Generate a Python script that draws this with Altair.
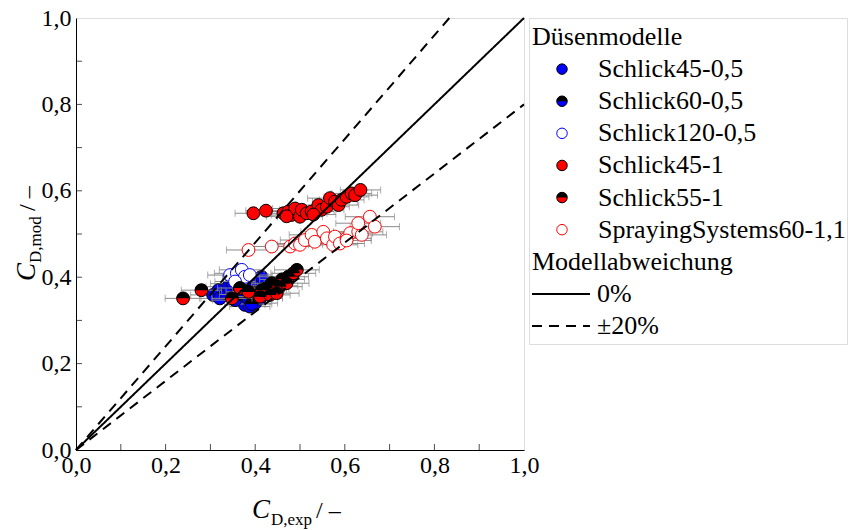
import altair as alt
import pandas as pd

FONT = "Liberation Serif"

# ---------------- data ----------------
series_names = ["Schlick45-0,5", "Schlick60-0,5", "Schlick120-0,5",
                "Schlick45-1", "Schlick55-1", "SprayingSystems60-1,1"]
series_fill = ["#0000FF", "#0000FF", "#FFFFFF", "#FF0000", "#FF0000", "#FFFFFF"]
series_stroke = ["#000000", "#000000", "#0000FF", "#000000", "#000000", "#FF0000"]
series_half = [False, True, False, False, True, False]

s45_05_x = [0.306, 0.318, 0.321, 0.333, 0.340, 0.350, 0.377, 0.388, 0.400, 0.411, 0.396, 0.407, 0.414]
s45_05_y = [0.359, 0.370, 0.351, 0.363, 0.378, 0.385, 0.336, 0.332, 0.340, 0.351, 0.378, 0.390, 0.401]
s45_05_e = [0.050, 0.050, 0.045, 0.050, 0.050, 0.050, 0.045, 0.045, 0.050, 0.050, 0.050, 0.050, 0.050]

s60_05_x = [0.355, 0.370, 0.385, 0.400, 0.392, 0.420]
s60_05_y = [0.347, 0.360, 0.350, 0.365, 0.338, 0.372]
s60_05_e = [0.050, 0.050, 0.045, 0.050, 0.045, 0.050]

s120_05_x = [0.344, 0.359, 0.370, 0.377, 0.355, 0.388]
s120_05_y = [0.405, 0.409, 0.417, 0.401, 0.390, 0.405]
s120_05_e = [0.050, 0.050, 0.050, 0.050, 0.045, 0.050]

s45_1_x = [0.396, 0.424, 0.463, 0.474, 0.481, 0.489, 0.500, 0.504, 0.515, 0.526, 0.541, 0.548,
           0.560, 0.567, 0.578, 0.586, 0.593, 0.604, 0.615, 0.623, 0.635, 0.530, 0.470]
s45_1_y = [0.548, 0.554, 0.548, 0.552, 0.544, 0.559, 0.540, 0.556, 0.548, 0.552, 0.567, 0.556,
           0.563, 0.583, 0.575, 0.567, 0.579, 0.586, 0.594, 0.590, 0.602, 0.545, 0.541]
s45_1_e = [0.041, 0.045, 0.045, 0.050, 0.045, 0.050, 0.050, 0.050, 0.045, 0.050, 0.050, 0.050,
           0.050, 0.050, 0.050, 0.045, 0.050, 0.050, 0.045, 0.050, 0.045, 0.050, 0.045]

s55_1_x = [0.239, 0.280, 0.348, 0.366, 0.385, 0.411, 0.425, 0.433, 0.448, 0.455, 0.470, 0.474,
           0.485, 0.493, 0.437, 0.460, 0.415, 0.445]
s55_1_y = [0.351, 0.370, 0.351, 0.375, 0.366, 0.355, 0.374, 0.359, 0.363, 0.378, 0.386, 0.401,
           0.409, 0.417, 0.386, 0.395, 0.370, 0.380]
s55_1_e = [0.040, 0.045, 0.045, 0.050, 0.050, 0.050, 0.050, 0.045, 0.050, 0.050, 0.050, 0.045,
           0.050, 0.050, 0.045, 0.050, 0.045, 0.050]

ss60_x = [0.385, 0.437, 0.478, 0.489, 0.500, 0.511, 0.526, 0.533, 0.552, 0.560, 0.574, 0.578,
          0.589, 0.604, 0.612, 0.630, 0.638, 0.656, 0.667, 0.630, 0.604]
ss60_y = [0.463, 0.471, 0.471, 0.478, 0.475, 0.486, 0.498, 0.482, 0.505, 0.490, 0.475, 0.494,
          0.478, 0.490, 0.502, 0.505, 0.498, 0.540, 0.517, 0.525, 0.485]
ss60_e = [0.049, 0.050, 0.050, 0.055, 0.050, 0.055, 0.050, 0.055, 0.050, 0.055, 0.055, 0.050,
          0.055, 0.055, 0.050, 0.055, 0.055, 0.055, 0.055, 0.050, 0.055]

series_x = [s45_05_x, s60_05_x, s120_05_x, s45_1_x, s55_1_x, ss60_x]
series_y = [s45_05_y, s60_05_y, s120_05_y, s45_1_y, s55_1_y, ss60_y]
series_e = [s45_05_e, s60_05_e, s120_05_e, s45_1_e, s55_1_e, ss60_e]

# deviation lines: slope of model vs experiment
dev_names = ["0%", "+20%", "-20%"]
dev_kind = ["0%", "±20%", "±20%"]
dev_x_end = [1.0, 1.0 / 1.2, 1.0]
dev_y_end = [1.0, 1.0, 0.8]

axis_ticks = [0.0, 0.2, 0.4, 0.6, 0.8, 1.0]
minor_ticks = [0.1, 0.2, 0.3, 0.4, 0.5, 0.6, 0.7, 0.8, 0.9]

legend_rows = [0, 1, 2, 3, 4, 5, 6, 7, 8, 9]
legend_labels = ["Düsenmodelle"] + series_names + ["Modellabweichung", "0%", "±20%"]

# ---------------- build tables ----------------
W, H = 448, 432
HALF_TOP = "M -1 0 A 1 1 0 0 1 1 0 Z"
GREY = "#8a8a8a"

xs = alt.Scale(domain=[0, 1], nice=False, zero=False)
ys = alt.Scale(domain=[0, 1], nice=False, zero=False)
label_expr = "replace(format(datum.value, '.1f'), '.', ',')"
x_axis = alt.Axis(values=axis_ticks, labelExpr=label_expr, ticks=False, grid=False, title=None,
                  labelFont=FONT, labelFontSize=24, labelColor="black", domainColor="black",
                  labelPadding=3, labelFlush=False)
y_axis = alt.Axis(values=axis_ticks, labelExpr=label_expr, ticks=False, grid=False, title=None,
                  labelFont=FONT, labelFontSize=24, labelColor="black", domainColor="black",
                  labelPadding=5)

layers = []
for i, name in enumerate(series_names):
    d = pd.DataFrame({"x": series_x[i], "y": series_y[i], "e": series_e[i]})
    d["xlo"] = d["x"] - d["e"]
    d["xhi"] = d["x"] + d["e"]
    base = alt.Chart(d)
    bars = base.mark_rule(color=GREY, strokeWidth=1).encode(
        x=alt.X("xlo:Q", scale=xs, axis=x_axis), x2="xhi:Q",
        y=alt.Y("y:Q", scale=ys, axis=y_axis))
    cap_lo = base.mark_tick(color=GREY, orient="vertical", size=7, thickness=1).encode(
        x=alt.X("xlo:Q", scale=xs), y=alt.Y("y:Q", scale=ys))
    cap_hi = base.mark_tick(color=GREY, orient="vertical", size=7, thickness=1).encode(
        x=alt.X("xhi:Q", scale=xs), y=alt.Y("y:Q", scale=ys))
    pts = base.mark_point(shape="circle", filled=True, size=165, opacity=1,
                          fill=series_fill[i], stroke=series_stroke[i], strokeWidth=1).encode(
        x=alt.X("x:Q", scale=xs), y=alt.Y("y:Q", scale=ys))
    layers += [bars, cap_lo, cap_hi, pts]
    if series_half[i]:
        half = base.mark_point(shape=HALF_TOP, filled=True, size=165, opacity=1,
                               fill="#000000", strokeWidth=0).encode(
            x=alt.X("x:Q", scale=xs), y=alt.Y("y:Q", scale=ys))
        layers.append(half)

dev_rows = []
for n, k, xe, ye in zip(dev_names, dev_kind, dev_x_end, dev_y_end):
    dev_rows.append({"name": n, "kind": k, "x": 0.0, "y": 0.0})
    dev_rows.append({"name": n, "kind": k, "x": xe, "y": ye})
dev_df = pd.DataFrame(dev_rows)
dash_scale = alt.Scale(domain=["0%", "±20%"], range=[[1, 0], [10, 7]])
dev_lines = alt.Chart(dev_df).mark_line(color="black", strokeWidth=2).encode(
    x=alt.X("x:Q", scale=xs), y=alt.Y("y:Q", scale=ys), detail="name:N",
    strokeDash=alt.StrokeDash("kind:N", scale=dash_scale, legend=None))
layers.append(dev_lines)

tick_df = pd.DataFrame({"v": minor_ticks})
bottom_ticks = alt.Chart(tick_df).mark_tick(color="black", orient="vertical", size=6, thickness=1).encode(
    x=alt.X("v:Q", scale=xs), y=alt.value(H - 3))
left_ticks = alt.Chart(tick_df).mark_tick(color="black", orient="horizontal", size=6, thickness=1).encode(
    y=alt.Y("v:Q", scale=ys), x=alt.value(3))
layers += [bottom_ticks, left_ticks]

# axis titles with subscripts
t_df = pd.DataFrame({"a": [0]})
def txt(text, x, y, size, angle=0, italic=False):
    kw = dict(text=text, font=FONT, fontSize=size, color="black", align="left",
              baseline="alphabetic", angle=angle)
    if italic:
        kw["fontStyle"] = "italic"
    return alt.Chart(t_df).mark_text(**kw).encode(x=alt.value(x), y=alt.value(y))

layers += [
    txt("C", 176, 500, 27, italic=True),
    txt("D,exp", 195, 507, 17),
    txt("/ –", 240, 500, 24),
    txt("C", -41, 263, 27, angle=270, italic=True),
    txt("D,mod", -35, 245, 17, angle=270),
    txt("/ –", -41, 193, 24, angle=270),
]

# invisible frame that fixes the page extent (left/top/bottom)
frame = alt.Chart(t_df).mark_rule(strokeOpacity=0, strokeWidth=1).encode(
    x=alt.value(-75.5), y=alt.value(-17.5), y2=alt.value(511.5))
layers.append(frame)

main = alt.layer(*layers).properties(width=W, height=H)

# ---------------- legend panel ----------------
LW, LH = 318, 326
leg_df = pd.DataFrame({"row": legend_rows, "label": legend_labels})
ly = alt.Y("row:Q", scale=alt.Scale(domain=[0, 9], range=[19, 308]), axis=None)
leg_layers = []
leg_layers.append(alt.Chart(leg_df[leg_df.row.isin([0, 7])]).mark_text(
    font=FONT, fontSize=26, align="left", baseline="middle", color="black").encode(
    x=alt.value(3), y=ly, text="label:N"))
leg_layers.append(alt.Chart(leg_df[leg_df.row.isin([1, 2, 3, 4, 5, 6])]).mark_text(
    font=FONT, fontSize=26, align="left", baseline="middle", color="black").encode(
    x=alt.value(69), y=ly, text="label:N"))
leg_layers.append(alt.Chart(leg_df[leg_df.row.isin([8, 9])]).mark_text(
    font=FONT, fontSize=26, align="left", baseline="middle", color="black").encode(
    x=alt.value(68), y=ly, text="label:N"))
for i in range(len(series_names)):
    sub = leg_df[leg_df.row == i + 1]
    leg_layers.append(alt.Chart(sub).mark_point(
        shape="circle", filled=True, size=110, opacity=1, fill=series_fill[i],
        stroke=series_stroke[i], strokeWidth=1).encode(x=alt.value(33), y=ly))
    if series_half[i]:
        leg_layers.append(alt.Chart(sub).mark_point(
            shape=HALF_TOP, filled=True, size=110, opacity=1, fill="#000000",
            strokeWidth=0).encode(x=alt.value(33), y=ly))
line_df = pd.DataFrame({"row": [8, 9], "kind": ["0%", "±20%"]})
leg_layers.append(alt.Chart(line_df).mark_rule(color="black", strokeWidth=2).encode(
    x=alt.value(3), x2=alt.value(61), y=ly,
    strokeDash=alt.StrokeDash("kind:N", scale=dash_scale, legend=None)))

legend = alt.layer(*leg_layers).properties(width=LW, height=LH)

chart = alt.hconcat(main, legend, spacing=5, bounds="flush").properties(
    padding=0,
).configure_view(stroke="black", strokeWidth=1.2).configure(background="white")

chart.save("out.html", embed_options={"renderer": "svg", "actions": False})
